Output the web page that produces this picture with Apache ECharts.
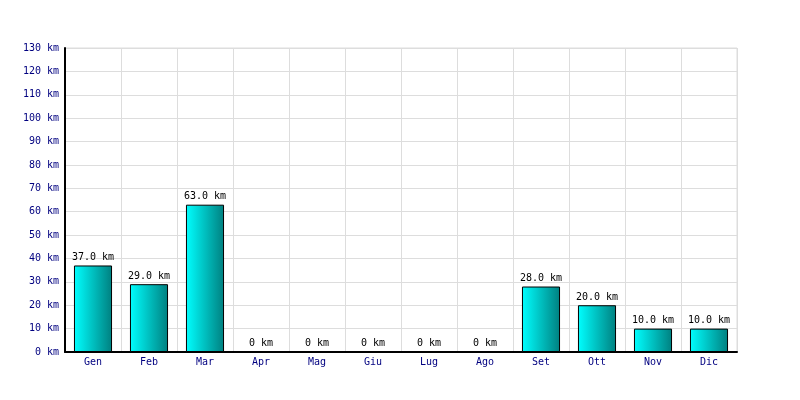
<!DOCTYPE html>
<html><head><meta charset="utf-8">
<script src="https://cdn.jsdelivr.net/npm/echarts@6/dist/echarts.min.js"></script>
<style>html,body{margin:0;padding:0;background:#fff}#c{width:800px;height:400px}</style>
</head><body><div id="c"></div>
<script>
const months = ['Gen','Feb','Mar','Apr','Mag','Giu','Lug','Ago','Set','Ott','Nov','Dic'];
const distances = [37, 29, 63, 0, 0, 0, 0, 0, 28, 20, 10, 10];
const unit = 'km';

const chart = echarts.init(document.getElementById('c'));
const font = 'DejaVu Sans Mono';
chart.setOption({
  animation: false,
  backgroundColor: '#fff',
  grid: {left: 65, right: 63, top: 48, bottom: 48, containLabel: false, show: true, borderColor: '#dddddd', borderWidth: 1},
  xAxis: {
    type: 'category', data: months, boundaryGap: true,
    axisLine: {show: true, lineStyle: {color: '#000', width: 2}},
    axisTick: {show: false},
    splitLine: {show: true, interval: 0, lineStyle: {color: '#dddddd'}},
    axisLabel: {color: '#000080', fontFamily: font, fontSize: 10, margin: 5, interval: 0}
  },
  yAxis: {
    type: 'value', min: 0, max: 130, interval: 10,
    axisLine: {show: true, lineStyle: {color: '#000', width: 2}},
    axisTick: {show: false},
    splitLine: {show: true, lineStyle: {color: '#dddddd'}},
    axisLabel: {color: '#000080', fontFamily: font, fontSize: 10, margin: 6, formatter: '{value} ' + unit}
  },
  series: [{
    type: 'bar', data: distances, barWidth: '68%',
    itemStyle: {
      borderColor: '#000', borderWidth: 1,
      color: new echarts.graphic.LinearGradient(0, 0, 1, 0, [
        {offset: 0, color: '#00ffff'}, {offset: 1, color: '#008080'}
      ])
    },
    label: {
      show: true, position: 'top', distance: 3, color: '#000', fontFamily: font, fontSize: 10,
      formatter: p => (p.value === 0 ? '0' : p.value.toFixed(1)) + ' ' + unit
    }
  }]
});
</script></body></html>
